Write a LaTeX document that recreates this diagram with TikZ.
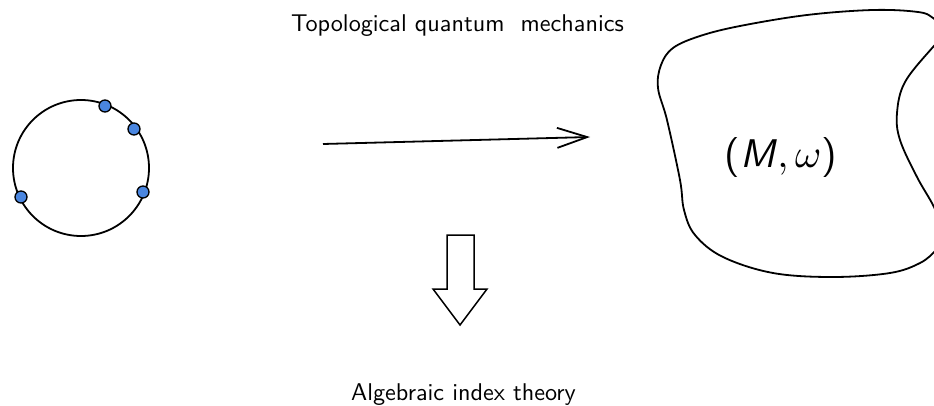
\documentclass[tikz,border=0pt]{standalone}
\usetikzlibrary{arrows.meta}
\definecolor{dotblue}{HTML}{4A86E0}
\begin{document}
\begin{tikzpicture}[x=1pt,y=-1pt,
  line/.style={line width=1.8pt, black},
  marked/.style={circle, draw=black, line width=1.3pt, fill=dotblue, inner sep=0pt, minimum size=12pt},
  lbl/.style={font=\sffamily\fontsize{10}{12}\selectfont, inner sep=0pt, anchor=base, scale=2.42, transform shape}]
\useasboundingbox (0,0) rectangle (934,406);
% circle with marked points
\node[circle, draw, line width=1.8pt, minimum size=136pt, inner sep=0pt] (circ) at (81,168) {};
\node[marked] (p1) at (105,106) {};
\node[marked] (p2) at (134,129) {};
\node[marked] (p3) at (143,192) {};
\node[marked] (p4) at (21,197) {};
% texts
\node[lbl] (title) at (457.5,32) {Topological quantum\ \ mechanics};
\node[lbl] (alg) at (463.5,400) {Algebraic index theory};
% main arrow
\coordinate (a0) at (323,144);
\coordinate (a1) at (590,137);
\draw[line, -{Straight Barb[length=30pt,width=20pt]}] (a0) -- (a1);
% block arrow
\draw[line width=1.5pt, fill=white] (447,235) -- (474,235) -- (474,289) -- (487,289) -- (460,325) -- (433,289) -- (447,289) -- cycle;
% blob
\begin{scope}
\clip (0,0) rectangle (934,406);
\draw[line] plot[smooth, tension=0.6] coordinates {(948,32) (933,18) (918,12) (873,10) (807,15) (740,26) (700,36) (673,48) (661,65) (658,88) (667,120) (680,180) (684,210) (695,235) (723,257) (773,273) (833,277) (890,273) (920,263) (936,250) (946,236)};
\draw[line] plot[smooth, tension=0.6] coordinates {(948,32) (933,47) (905,82) (897,113) (900,140) (917,177) (934,207) (946,236)};
\end{scope}
\node[font=\sffamily\fontsize{10}{12}\selectfont, inner sep=0pt, scale=4.0, transform shape] (mw) at (781,158) {(\textsl{M}$,\omega$)};
\end{tikzpicture}
\end{document}
